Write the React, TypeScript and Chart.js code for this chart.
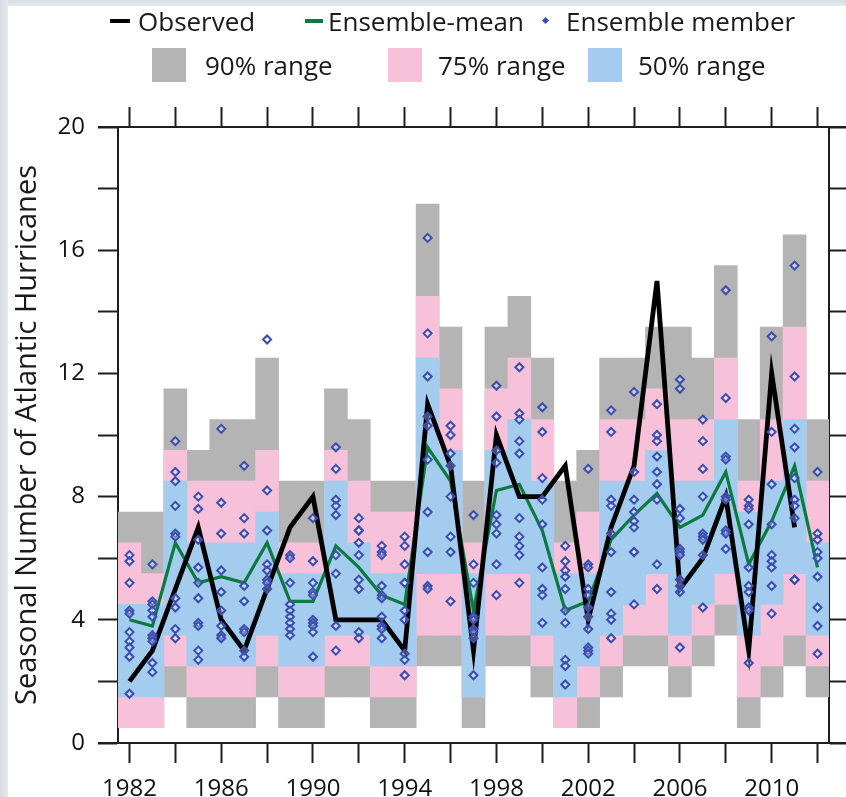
import React, { useEffect, useRef } from 'react';
import { Chart, registerables } from 'chart.js';

Chart.register(...registerables);

const years = [1982, 1983, 1984, 1985, 1986, 1987, 1988, 1989, 1990, 1991, 1992, 1993, 1994, 1995, 1996, 1997, 1998, 1999, 2000, 2001, 2002, 2003, 2004, 2005, 2006, 2007, 2008, 2009, 2010, 2011, 2012];
const tickYears = [1982, 1984, 1986, 1988, 1990, 1992, 1994, 1996, 1998, 2000, 2002, 2004, 2006, 2008, 2010, 2012];
const labelYears = [1982, 1986, 1990, 1994, 1998, 2002, 2006, 2010];
const yLabelValues = [0, 4, 8, 12, 16, 20];

const observed = [2, 3, 5, 7, 4, 3, 5, 7, 8, 4, 4, 4, 3, 11, 9, 3, 10, 8, 8, 9, 4, 7, 9, 15, 5, 6, 8, 3, 12, 7, null];
const ensembleMean = [4.0, 3.8, 6.5, 5.2, 5.4, 5.2, 6.5, 4.6, 4.6, 6.4, 5.7, 4.8, 4.5, 9.6, 8.5, 4.3, 8.2, 8.4, 6.9, 4.3, 4.6, 6.6, 7.4, 8.1, 7.0, 7.4, 8.8, 5.8, 7.2, 9.0, 5.7];

const range90Lo = [0.5, 0.5, 1.5, 0.5, 0.5, 0.5, 1.5, 0.5, 0.5, 1.5, 1.5, 0.5, 0.5, 2.5, 2.5, 0.5, 2.5, 2.5, 1.5, 0.5, 0.5, 1.5, 2.5, 2.5, 1.5, 2.5, 3.5, 0.5, 1.5, 2.5, 1.5];
const range90Hi = [7.5, 7.5, 11.5, 9.5, 10.5, 10.5, 12.5, 8.5, 8.5, 11.5, 10.5, 8.5, 8.5, 17.5, 13.5, 8.5, 13.5, 14.5, 12.5, 8.5, 9.5, 12.5, 12.5, 13.5, 13.5, 12.5, 15.5, 10.5, 13.5, 16.5, 10.5];
const range75Lo = [0.5, 0.5, 2.5, 1.5, 1.5, 1.5, 2.5, 1.5, 1.5, 2.5, 2.5, 1.5, 1.5, 3.5, 3.5, 1.5, 3.5, 3.5, 2.5, 0.5, 1.5, 2.5, 3.5, 3.5, 2.5, 3.5, 4.5, 1.5, 2.5, 3.5, 2.5];
const range75Hi = [6.5, 5.5, 9.5, 8.5, 8.5, 8.5, 9.5, 6.5, 6.5, 9.5, 8.5, 7.5, 7.5, 14.5, 11.5, 6.5, 11.5, 12.5, 10.5, 6.5, 7.5, 10.5, 10.5, 11.5, 10.5, 10.5, 12.5, 8.5, 10.5, 13.5, 8.5];
const range50Lo = [1.5, 1.5, 3.5, 2.5, 2.5, 2.5, 3.5, 2.5, 2.5, 3.5, 3.5, 2.5, 2.5, 5.5, 5.5, 1.5, 5.5, 5.5, 3.5, 1.5, 2.5, 3.5, 4.5, 5.5, 3.5, 4.5, 5.5, 3.5, 4.5, 5.5, 3.5];
const range50Hi = [4.5, 4.5, 8.5, 6.5, 6.5, 6.5, 7.5, 5.5, 5.5, 8.5, 6.5, 5.5, 5.5, 12.5, 9.5, 5.5, 9.5, 10.5, 8.5, 5.5, 5.5, 8.5, 8.5, 9.5, 8.5, 8.5, 10.5, 7.5, 8.5, 10.5, 6.5];

const ensembleMembers: number[][] = [
  [6.1, 5.9, 5.2, 4.3, 4.2, 3.6, 3.3, 3.1, 2.8, 1.6],
  [5.8, 4.6, 4.5, 4.3, 4.1, 3.5, 3.4, 3.3, 2.6, 2.3],
  [9.8, 8.8, 8.5, 7.7, 6.8, 6.7, 4.7, 4.4, 3.7, 3.4],
  [8.0, 7.6, 6.6, 5.7, 5.2, 4.7, 3.9, 3.8, 3.0, 2.7],
  [10.2, 7.8, 6.8, 5.6, 4.9, 4.3, 3.8, 3.5, 3.4],
  [9.0, 7.3, 6.8, 5.1, 4.6, 3.7, 3.6, 3.0, 2.8],
  [13.1, 8.2, 6.9, 5.8, 5.6, 5.3, 5.2, 5.0],
  [6.1, 6.0, 5.2, 4.5, 4.3, 4.1, 3.9, 3.7, 3.5],
  [7.3, 5.9, 5.2, 4.9, 4.8, 4.0, 3.9, 3.8, 3.6, 2.8],
  [9.6, 8.9, 7.9, 7.7, 7.4, 6.1, 5.5, 3.8, 3.0],
  [7.3, 6.9, 6.9, 6.5, 6.1, 5.3, 5.0, 3.6, 3.4],
  [6.4, 6.2, 6.1, 5.1, 4.8, 4.7, 4.1, 3.8, 3.7, 3.4],
  [6.7, 6.4, 5.8, 5.2, 5.2, 4.3, 4.0, 2.9, 2.7, 2.2],
  [16.4, 13.3, 11.9, 10.6, 10.3, 9.2, 7.5, 6.2, 5.1, 5.0],
  [10.3, 10.0, 9.4, 9.0, 8.0, 6.7, 6.2, 4.6],
  [7.4, 5.8, 5.2, 4.1, 4.0, 3.7, 3.6, 3.4, 2.2],
  [11.6, 10.6, 9.5, 9.1, 7.4, 7.1, 6.8, 5.8, 4.8],
  [12.2, 10.7, 10.5, 9.8, 9.4, 7.3, 6.7, 6.4, 6.1, 5.2],
  [10.9, 10.1, 8.6, 7.9, 7.1, 5.7, 5.0, 4.8, 3.9],
  [6.4, 5.9, 5.6, 5.4, 5.0, 4.3, 3.9, 2.7, 2.5, 1.9],
  [8.9, 5.8, 5.7, 5.0, 4.8, 4.4, 4.1, 3.7, 3.1, 3.0, 2.9],
  [10.8, 10.1, 7.9, 7.7, 6.8, 6.2, 4.9, 4.2, 4.0, 3.4],
  [11.4, 8.8, 7.9, 7.5, 7.2, 7.0, 6.2, 6.2, 4.5],
  [11.0, 10.0, 9.8, 9.3, 8.8, 8.4, 7.9, 5.8, 5.0],
  [11.8, 11.5, 7.6, 7.3, 6.3, 6.2, 6.1, 5.3, 5.1, 4.9, 3.1],
  [10.5, 9.8, 8.9, 8.0, 6.8, 6.7, 6.6, 6.1, 4.4],
  [14.7, 11.2, 9.3, 9.2, 8.0, 7.9, 6.9, 6.8, 6.3],
  [7.9, 7.7, 7.6, 7.1, 5.7, 5.1, 4.9, 4.4, 4.3, 2.6],
  [13.2, 10.1, 8.4, 7.1, 6.1, 5.9, 5.7, 5.1, 4.2],
  [15.5, 11.9, 10.2, 9.6, 8.6, 7.9, 7.7, 7.3, 5.3, 5.3],
  [8.8, 6.8, 6.6, 6.2, 6.0, 5.4, 4.4, 3.8, 2.9],
];

const GRAY = '#b4b4b4';
const PINK = '#f7c1d9';
const BLUE = '#a3ccee';
const GREEN = '#0b7a3e';
const DIAMOND = '#3a4db0';
const AXIS = '#1e1e1e';
const FONT = "'Open Sans', 'Noto Sans', sans-serif";

const frameExtend = {
  id: 'frameExtend',
  afterDraw(chart: any) {
    const { ctx, chartArea } = chart;
    ctx.save();
    ctx.strokeStyle = AXIS;
    ctx.lineWidth = 2;
    ctx.beginPath();
    ctx.moveTo(chartArea.left - 20, chartArea.top);
    ctx.lineTo(chartArea.right + 17, chartArea.top);
    ctx.moveTo(chartArea.left - 20, chartArea.bottom);
    ctx.lineTo(chartArea.right + 17, chartArea.bottom);
    ctx.stroke();
    ctx.restore();
  },
};

export default function App() {
  const ref = useRef<HTMLCanvasElement | null>(null);

  useEffect(() => {
    document.body.style.margin = '0';
    const canvas = ref.current;
    if (!canvas) return;

    const bar = (lo: number[], hi: number[], color: string, order: number) => ({
      type: 'bar' as const,
      data: years.map((y, i) => ({ x: y, y: [lo[i], hi[i]] })),
      backgroundColor: color,
      borderWidth: 0,
      barPercentage: 1,
      categoryPercentage: 1,
      grouped: false,
      order,
    });

    const memberPoints: { x: number; y: number }[] = [];
    years.forEach((y, i) => ensembleMembers[i].forEach((v) => memberPoints.push({ x: y, y: v })));

    const xCommon = {
      type: 'linear' as const,
      min: 1981.5,
      max: 2012.5,
      offset: false,
      afterBuildTicks: (s: any) => {
        s.ticks = tickYears.map((v) => ({ value: v }));
      },
      grid: { offset: false, drawOnChartArea: false, drawTicks: true, tickLength: 20, tickWidth: 2, tickColor: AXIS },
      border: { display: true, width: 2, color: AXIS },
    };

    const chart = new Chart(canvas, {
      data: {
        datasets: [
          {
            type: 'scatter',
            label: 'Ensemble member',
            data: memberPoints,
            pointStyle: 'rectRot',
            pointRadius: 4,
            pointBorderWidth: 2,
            pointBorderColor: DIAMOND,
            pointBackgroundColor: 'rgba(255,255,255,0.3)',
            showLine: false,
            order: 0,
          } as any,
          {
            type: 'line',
            label: 'Observed',
            data: years.map((y, i) => ({ x: y, y: observed[i] })),
            borderColor: '#000000',
            borderWidth: 4.8,
            pointRadius: 0,
            tension: 0,
            spanGaps: false,
            order: 1,
          } as any,
          {
            type: 'line',
            label: 'Ensemble-mean',
            data: years.map((y, i) => ({ x: y, y: ensembleMean[i] })),
            borderColor: GREEN,
            borderWidth: 3.2,
            pointRadius: 0,
            tension: 0,
            order: 2,
          } as any,
          bar(range50Lo, range50Hi, BLUE, 3) as any,
          bar(range75Lo, range75Hi, PINK, 4) as any,
          bar(range90Lo, range90Hi, GRAY, 5) as any,
        ],
      },
      options: {
        responsive: false,
        animation: false,
        devicePixelRatio: 1,
        layout: { padding: { left: 10, right: 0, top: 0, bottom: 0 } },
        plugins: { legend: { display: false }, tooltip: { enabled: false } },
        scales: {
          x: {
            ...xCommon,
            position: 'bottom',
            afterFit: (s: any) => { s.height = 54; },
            ticks: {
              autoSkip: false,
              maxRotation: 0,
              padding: 12,
              color: '#111',
              font: { family: FONT, size: 24 },
              callback: (v: any) => (labelYears.includes(Number(v)) ? String(v) : ''),
            },
          },
          xTop: {
            ...xCommon,
            position: 'top',
            afterFit: (s: any) => { s.height = 127; },
            ticks: { display: false },
          },
          y: {
            type: 'linear',
            position: 'left',
            min: 0,
            max: 20,
            afterFit: (s: any) => { s.width = 108; },
            ticks: {
              stepSize: 2,
              padding: 13,
              color: '#111',
              font: { family: FONT, size: 24 },
              callback: (v: any) => (yLabelValues.includes(Number(v)) ? String(v) : ''),
            },
            grid: { drawOnChartArea: false, drawTicks: true, tickLength: 20, tickWidth: 2, tickColor: AXIS },
            border: { display: true, width: 2, color: AXIS },
            title: {
              display: true,
              text: 'Seasonal Number of Atlantic Hurricanes',
              color: '#1a1a1a',
              font: { family: FONT, size: 29 },
              padding: 0,
            },
          },
          yRight: {
            type: 'linear',
            position: 'right',
            min: 0,
            max: 20,
            afterFit: (s: any) => { s.width = 17; },
            ticks: { stepSize: 2, display: false },
            grid: { drawOnChartArea: false, drawTicks: true, tickLength: 20, tickWidth: 2, tickColor: AXIS },
            border: { display: true, width: 2, color: AXIS },
          },
        },
      } as any,
      plugins: [frameExtend],
    });

    return () => chart.destroy();
  }, []);

  const text = (left: number, cy: number, label: string) => (
    <span
      style={{
        position: 'absolute', left, top: cy - 18, height: 36, lineHeight: '36px',
        fontFamily: FONT, fontSize: 26, color: '#1a1a1a', whiteSpace: 'nowrap',
      }}
    >
      {label}
    </span>
  );

  return (
    <div style={{ position: 'relative', width: 846, height: 797, background: '#ffffff', overflow: 'hidden' }}>
      <div style={{ position: 'absolute', left: 0, top: 0, width: 846, height: 6, background: 'linear-gradient(#d9dde4, #e6e9ee)' }} />
      <div style={{ position: 'absolute', left: 0, top: 0, width: 8, height: 797, background: 'linear-gradient(90deg, #d6dae2, #e6e9ee)' }} />
      <canvas ref={ref} width={846} height={797} style={{ position: 'absolute', left: 0, top: 0, width: 846, height: 797 }} />
      <div style={{ position: 'absolute', left: 110, top: 19, width: 20, height: 4, background: '#000' }} />
      {text(138, 21, 'Observed')}
      <div style={{ position: 'absolute', left: 305, top: 19, width: 18, height: 4, background: GREEN }} />
      {text(328, 21, 'Ensemble-mean')}
      <div style={{ position: 'absolute', left: 543, top: 18, width: 5, height: 5, background: DIAMOND, transform: 'rotate(45deg)' }} />
      {text(566, 21, 'Ensemble member')}
      <div style={{ position: 'absolute', left: 152, top: 48, width: 34, height: 34, background: GRAY }} />
      {text(205, 65, '90% range')}
      <div style={{ position: 'absolute', left: 388, top: 48, width: 34, height: 34, background: PINK }} />
      {text(438, 65, '75% range')}
      <div style={{ position: 'absolute', left: 588, top: 48, width: 34, height: 34, background: BLUE }} />
      {text(638, 65, '50% range')}
    </div>
  );
}
